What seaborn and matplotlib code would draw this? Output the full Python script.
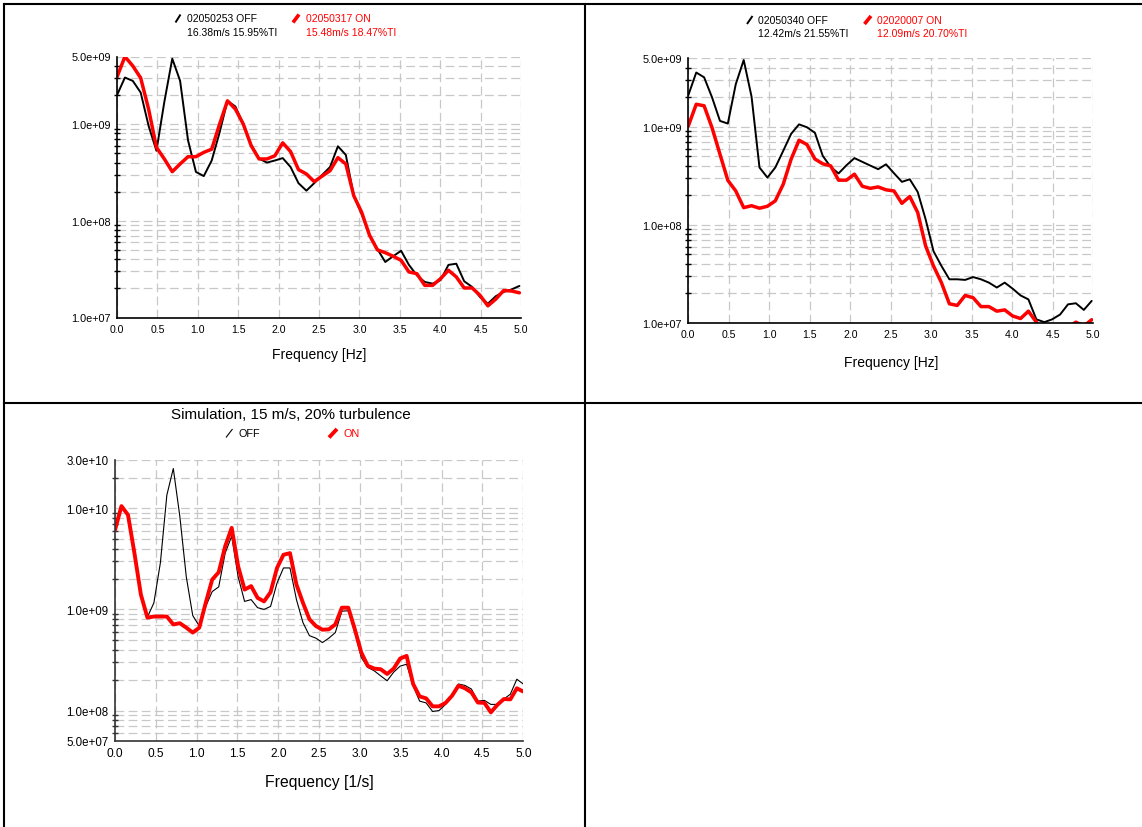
import numpy as np
import pandas as pd
import matplotlib
matplotlib.use("Agg")
import matplotlib.pyplot as plt
import seaborn as sns
from matplotlib.lines import Line2D
from matplotlib.ticker import FixedLocator, FuncFormatter, LogLocator, NullFormatter

# ---------------- data ----------------
freq_meas = [0.000, 0.098, 0.195, 0.293, 0.391, 0.488, 0.586, 0.684, 0.781, 0.879,
             0.977, 1.074, 1.172, 1.270, 1.367, 1.465, 1.563, 1.660, 1.758, 1.855,
             1.953, 2.051, 2.148, 2.246, 2.344, 2.441, 2.539, 2.637, 2.734, 2.832,
             2.930, 3.027, 3.125, 3.223, 3.320, 3.418, 3.516, 3.613, 3.711, 3.809,
             3.906, 4.004, 4.102, 4.199, 4.297, 4.395, 4.492, 4.590, 4.688, 4.785,
             4.883, 4.980]

p1_off = [1.99e9, 3.03e9, 2.80e9, 2.12e9, 9.6e8, 5.3e8, 1.70e9, 4.75e9, 2.80e9, 6.8e8,
          3.2e8, 2.9e8, 4.2e8, 8.2e8, 1.74e9, 1.52e9, 1.0e9, 6.1e8, 4.4e8, 4.0e8,
          4.2e8, 4.45e8, 3.6e8, 2.45e8, 2.05e8, 2.45e8, 2.98e8, 3.6e8, 5.9e8, 4.8e8,
          1.82e8, 1.18e8, 7.1e7, 5.1e7, 3.75e7, 4.3e7, 4.9e7, 3.5e7, 2.73e7, 2.33e7,
          2.24e7, 2.43e7, 3.5e7, 3.6e7, 2.37e7, 2.07e7, 1.63e7, 1.39e7, 1.66e7, 1.84e7,
          1.95e7, 2.12e7]
p1_on = [3.07e9, 4.99e9, 4.0e9, 3.0e9, 1.43e9, 5.75e8, 4.36e8, 3.22e8, 3.87e8, 4.6e8,
         4.6e8, 5.1e8, 5.5e8, 1.0e9, 1.74e9, 1.43e9, 1.0e9, 6.0e8, 4.36e8, 4.36e8,
         4.7e8, 6.4e8, 5.2e8, 3.38e8, 3.05e8, 2.54e8, 2.9e8, 3.3e8, 4.5e8, 3.87e8,
         1.82e8, 1.23e8, 7.1e7, 5.0e7, 4.68e7, 4.3e7, 3.9e7, 2.96e7, 2.84e7, 2.15e7,
         2.15e7, 2.52e7, 3.08e7, 2.63e7, 2.02e7, 2.02e7, 1.7e7, 1.32e7, 1.55e7, 1.9e7,
         1.88e7, 1.8e7]

p2_off = [2.1e9, 3.58e9, 3.2e9, 2.0e9, 1.15e9, 1.08e9, 2.72e9, 4.8e9, 2.03e9, 3.85e8,
          3.04e8, 3.85e8, 5.7e8, 8.5e8, 1.06e9, 9.9e8, 8.7e8, 5.06e8, 3.9e8, 3.35e8,
          4.06e8, 4.8e8, 4.4e8, 4.03e8, 3.7e8, 4.15e8, 3.37e8, 2.75e8, 2.92e8, 2.17e8,
          1.14e8, 5.4e7, 3.82e7, 2.79e7, 2.79e7, 2.75e7, 2.94e7, 2.79e7, 2.58e7, 2.3e7,
          2.58e7, 2.24e7, 1.91e7, 1.74e7, 1.09e7, 1.02e7, 1.09e7, 1.22e7, 1.55e7, 1.59e7,
          1.36e7, 1.68e7]
p2_on = [1.02e9, 1.7e9, 1.64e9, 9.8e8, 5.26e8, 2.85e8, 2.22e8, 1.5e8, 1.57e8, 1.48e8,
         1.55e8, 1.76e8, 2.6e8, 4.7e8, 7.3e8, 6.6e8, 4.7e8, 4.2e8, 4.0e8, 2.86e8,
         2.86e8, 3.29e8, 2.48e8, 2.36e8, 2.44e8, 2.28e8, 2.22e8, 1.66e8, 1.95e8, 1.34e8,
         6.1e7, 3.82e7, 2.58e7, 1.57e7, 1.51e7, 1.91e7, 1.81e7, 1.47e7, 1.47e7, 1.32e7,
         1.36e7, 1.18e7, 1.11e7, 1.32e7, 1.02e7, 8.0e6, 7.0e6, 7.0e6, 9.0e6, 1.02e7,
         9.3e6, 1.08e7]

freq_sim = [0.000, 0.079, 0.159, 0.238, 0.317, 0.397, 0.476, 0.556, 0.635, 0.714,
            0.794, 0.873, 0.952, 1.032, 1.111, 1.190, 1.270, 1.349, 1.429, 1.508,
            1.587, 1.667, 1.746, 1.825, 1.905, 1.984, 2.063, 2.143, 2.222, 2.302,
            2.381, 2.460, 2.540, 2.619, 2.698, 2.778, 2.857, 2.937, 3.016, 3.095,
            3.175, 3.254, 3.333, 3.413, 3.492, 3.571, 3.651, 3.730, 3.810, 3.889,
            3.968, 4.048, 4.127, 4.206, 4.286, 4.365, 4.444, 4.524, 4.603, 4.683,
            4.762, 4.841, 4.921, 5.000]

p3_off = [6.0e9, 1.02e10, 8.4e9, 3.5e9, 1.35e9, 8.4e8, 1.16e9, 2.9e9, 1.35e10, 2.47e10,
          8.3e9, 2.1e9, 8.7e8, 6.85e8, 1.07e9, 1.5e9, 1.67e9, 3.6e9, 5.3e9, 2.1e9,
          1.2e9, 1.25e9, 1.04e9, 1.0e9, 1.07e9, 1.82e9, 2.57e9, 2.57e9, 1.25e9, 7.4e8,
          5.5e8, 5.2e8, 4.7e8, 5.2e8, 5.9e8, 9.6e8, 9.7e8, 5.9e8, 3.35e8, 2.67e8,
          2.47e8, 2.2e8, 1.97e8, 2.4e8, 2.75e8, 2.87e8, 1.76e8, 1.24e8, 1.19e8, 9.8e7,
          1.0e8, 1.15e8, 1.45e8, 1.83e8, 1.77e8, 1.63e8, 1.24e8, 1.26e8, 1.15e8, 1.15e8,
          1.3e8, 1.45e8, 2.04e8, 1.83e8]
p3_on = [6.1e9, 1.05e10, 8.6e9, 3.6e9, 1.4e9, 8.3e8, 8.5e8, 8.5e8, 8.5e8, 7.1e8,
         7.3e8, 6.6e8, 5.9e8, 6.6e8, 1.16e9, 1.97e9, 2.33e9, 4.2e9, 6.4e9, 2.67e9,
         1.57e9, 1.7e9, 1.3e9, 1.2e9, 1.48e9, 2.57e9, 3.47e9, 3.6e9, 1.76e9, 1.16e9,
         8.0e8, 6.85e8, 6.3e8, 6.35e8, 7.1e8, 1.04e9, 1.04e9, 6.35e8, 3.75e8, 2.77e8,
         2.6e8, 2.56e8, 2.3e8, 2.6e8, 3.27e8, 3.47e8, 1.83e8, 1.38e8, 1.32e8, 1.1e8,
         1.1e8, 1.19e8, 1.4e8, 1.76e8, 1.66e8, 1.51e8, 1.2e8, 1.19e8, 9.6e7, 1.14e8,
         1.3e8, 1.29e8, 1.66e8, 1.54e8]

legend1 = [("02050253 OFF", "16.38m/s 15.95%TI"), ("02050317 ON", "15.48m/s 18.47%TI")]
legend2 = [("02050340 OFF", "12.42m/s 21.55%TI"), ("02020007 ON", "12.09m/s 20.70%TI")]
legend3 = ["OFF", "ON"]
title3 = "Simulation, 15 m/s, 20% turbulence"
xlabel12 = "Frequency [Hz]"
xlabel3 = "Frequency [1/s]"
yticks12 = [1e7, 1e8, 1e9, 5e9]
yticks3 = [5e7, 1e8, 1e9, 1e10, 3e10]
xticks = [0.0, 0.5, 1.0, 1.5, 2.0, 2.5, 3.0, 3.5, 4.0, 4.5, 5.0]

# ---------------- style ----------------
sns.set_theme(style="white")
plt.rcParams['font.family'] = ['Liberation Sans', 'DejaVu Sans']

W, H = 1142, 828
fig = plt.figure(figsize=(W / 100, H / 100), dpi=100)
fig.patch.set_facecolor("white")


def rect(l, t, r, b):
    return [l / W, 1 - b / H, (r - l) / W, (b - t) / H]


def fx(x):
    return x / W


def fy(y):
    return 1 - y / H


RED = "#ff0000"


def panel(r, freq, off, on, lw_off, lw_on, ylim, yticks, xlabel, fs_x, fs_y, fs_lab, labelpad, spine_col):
    ax = fig.add_axes(r)
    df = pd.DataFrame({"freq": freq, "off": off, "on": on})
    sns.lineplot(data=df, x="freq", y="off", ax=ax, color="black", lw=lw_off,
                 estimator=None, sort=False, zorder=3)
    sns.lineplot(data=df, x="freq", y="on", ax=ax, color=RED, lw=lw_on,
                 estimator=None, sort=False, zorder=4)
    ax.set_yscale("log")
    ax.set_xlim(0, 5)
    ax.set_ylim(*ylim)
    ax.set_ylabel("")
    ax.set_xlabel(xlabel, fontsize=fs_lab, labelpad=labelpad, color="black")
    ax.xaxis.set_major_locator(FixedLocator(xticks))
    ax.xaxis.set_major_formatter(FuncFormatter(lambda v, p: f"{v:.1f}"))
    ax.yaxis.set_major_locator(FixedLocator(yticks))
    ax.yaxis.set_major_formatter(FuncFormatter(lambda v, p: f"{v:.1e}"))
    ax.yaxis.set_minor_locator(LogLocator(base=10, subs=np.arange(2, 10)))
    ax.yaxis.set_minor_formatter(NullFormatter())
    ax.tick_params(axis="x", which="major", direction="inout", length=7, width=1,
                   labelsize=fs_x, pad=1, colors=spine_col, labelcolor="black")
    ax.tick_params(axis="y", which="major", direction="inout", length=7, width=1,
                   labelsize=fs_y, pad=1, colors=spine_col, labelcolor="black")
    ax.tick_params(axis="y", which="minor", direction="inout", length=5, width=1,
                   colors=spine_col, left=True)
    ax.grid(False)
    ax.yaxis.grid(True, which="both", color="#c8c8c8", lw=0.9, linestyle=(0, (7, 3.5)))
    ax.xaxis.grid(True, which="major", color="#c8c8c8", lw=0.9, linestyle=(0, (7, 3.5)))
    for s in ["top", "right"]:
        ax.spines[s].set_visible(False)
    for s in ["left", "bottom"]:
        ax.spines[s].set_color(spine_col)
        ax.spines[s].set_linewidth(1.2)
        ax.spines[s].set_zorder(5)
    ax.set_facecolor("white")
    return ax


ax1 = panel(rect(117, 57.5, 521, 318.5), freq_meas, p1_off, p1_on, 1.4, 2.5,
            (1e7, 5e9), yticks12, xlabel12, 7.6, 7.8, 10, 9.5, "black")
ax2 = panel(rect(688.3, 59.3, 1093.3, 324), freq_meas, p2_off, p2_on, 1.4, 2.5,
            (1e7, 5e9), yticks12, xlabel12, 7.6, 7.8, 10, 11.5, "black")
ax3 = panel(rect(115, 461, 523.3, 742), freq_sim, p3_off, p3_on, 0.8, 2.8,
            (5e7, 3e10), yticks3, xlabel3, 8.6, 8.3, 11.3, 10.5, "#333333")


# ---------------- legends (drawn as figure decorations) ----------------
def slash(x0, y0, x1, y1, color, lw):
    fig.add_artist(Line2D([fx(x0), fx(x1)], [fy(y0), fy(y1)], transform=fig.transFigure,
                          color=color, lw=lw, solid_capstyle="butt"))


def two_line(x, y1, y2, texts, color, fs=7.5):
    fig.text(fx(x), fy(y1), texts[0], fontsize=fs, color=color, ha="left", va="center")
    fig.text(fx(x), fy(y2), texts[1], fontsize=fs, color=color, ha="left", va="center")


# panel 1
slash(175.5, 23.5, 180.5, 15.5, "black", 1.4)
two_line(187.3, 19, 32.5, legend1[0], "black")
slash(293, 23.5, 299, 15.5, RED, 2.6)
two_line(305.5, 19, 32.5, legend1[1], RED)
# panel 2
slash(747, 25, 752.5, 17, "black", 1.4)
two_line(758.5, 21, 34, legend2[0], "black")
slash(864.5, 25, 871, 17, RED, 2.6)
two_line(877.5, 21, 34, legend2[1], RED)
# panel 3
fig.text(fx(291), fy(415), title3, fontsize=11, color="black", ha="center", va="center")
slash(226, 438.5, 232.5, 430, "black", 0.8)
fig.text(fx(238.3), fy(434.5), legend3[0], fontsize=7.8, color="black", ha="left", va="center")
slash(329, 438.5, 337, 430, RED, 2.8)
fig.text(fx(343.3), fy(434.5), legend3[1], fontsize=7.8, color=RED, ha="left", va="center")


# ---------------- table borders ----------------
def border(x0, y0, x1, y1):
    fig.add_artist(Line2D([fx(x0), fx(x1)], [fy(y0), fy(y1)], transform=fig.transFigure,
                          color="black", lw=1.5, solid_capstyle="projecting"))


border(4, 4.5, W, 4.5)
border(4, 4.5, 4, H)
border(584.5, 4.5, 584.5, H)
border(4, 403.5, W, 403.5)

fig.savefig("out.png", dpi=100, facecolor="white")
